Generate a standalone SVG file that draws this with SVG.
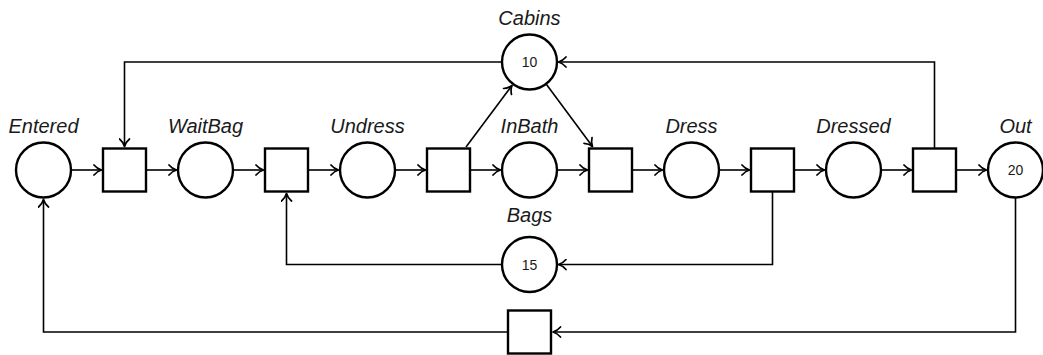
<svg xmlns="http://www.w3.org/2000/svg" width="1043" height="355" viewBox="0 0 1043 355">
  <style>
    .place { fill: #ffffff; stroke: #000000; stroke-width: 2.4; }
    .trans { fill: #ffffff; stroke: #000000; stroke-width: 2.4; }
    .arc { fill: none; stroke: #000000; stroke-width: 1.6; marker-end: url(#tip); }
    .lbl { font-family: "Liberation Sans", Arial, sans-serif; font-style: italic; font-size: 20px; fill: #1a1a1a; text-anchor: middle; }
    .tok { font-family: "Liberation Sans", Arial, sans-serif; font-size: 14px; fill: #1a1a1a; text-anchor: middle; dominant-baseline: central; }
  </style>
  <defs>
    <marker id="tip" viewBox="-9 -6 11 12" refX="0" refY="0" markerWidth="11" markerHeight="12" markerUnits="userSpaceOnUse" orient="auto">
      <path d="M -7.5 -5 C -5.2 -2.2 -2.4 -0.7 0 0 C -2.4 0.7 -5.2 2.2 -7.5 5" fill="none" stroke="#000000" stroke-width="1.7" stroke-linecap="round" stroke-linejoin="round"/>
    </marker>
  </defs>

  <!-- arcs between places and transitions -->
  <g id="connectors">
    <!-- main chain -->
    <path class="arc" d="M 72 170 H 101.5"/>
    <path class="arc" d="M 146.5 170 H 176.5"/>
    <path class="arc" d="M 234 170 H 263.5"/>
    <path class="arc" d="M 308.5 170 H 338.5"/>
    <path class="arc" d="M 396 170 H 425.5"/>
    <path class="arc" d="M 470.5 170 H 500.5"/>
    <path class="arc" d="M 558 170 H 587.5"/>
    <path class="arc" d="M 632.5 170 H 662.5"/>
    <path class="arc" d="M 720 170 H 749.5"/>
    <path class="arc" d="M 794.5 170 H 824.5"/>
    <path class="arc" d="M 882 170 H 911.5"/>
    <path class="arc" d="M 956.5 170 H 986.5"/>
    <!-- cabins resource -->
    <path class="arc" d="M 501.5 62 H 124.5 V 146.5"/>
    <path class="arc" d="M 934.5 148 V 62 H 558.5"/>
    <path class="arc" d="M 466 147 L 512 85.5"/>
    <path class="arc" d="M 546.5 84.5 L 592.5 146.5"/>
    <!-- bags resource -->
    <path class="arc" d="M 772.5 192 V 264.5 H 558.5"/>
    <path class="arc" d="M 501.5 264.5 H 286.5 V 193.5"/>
    <!-- recycle loop -->
    <path class="arc" d="M 1015.5 198 V 332 H 553"/>
    <path class="arc" d="M 507.5 332 H 43.5 V 199.5"/>
  </g>

  <!-- places -->
  <g id="entered">
    <circle class="place" cx="43.5" cy="170" r="27.5"/>
    <text class="lbl" x="43.5" y="133">Entered</text>
  </g>
  <g id="waitbag">
    <circle class="place" cx="205.5" cy="170" r="27.5"/>
    <text class="lbl" x="205.5" y="133">WaitBag</text>
  </g>
  <g id="undress">
    <circle class="place" cx="367.5" cy="170" r="27.5"/>
    <text class="lbl" x="367.5" y="133">Undress</text>
  </g>
  <g id="inbath">
    <circle class="place" cx="529.5" cy="170" r="27.5"/>
    <text class="lbl" x="529.5" y="133">InBath</text>
  </g>
  <g id="dress">
    <circle class="place" cx="691.5" cy="170" r="27.5"/>
    <text class="lbl" x="691.5" y="133">Dress</text>
  </g>
  <g id="dressed">
    <circle class="place" cx="853.5" cy="170" r="27.5"/>
    <text class="lbl" x="853.5" y="133">Dressed</text>
  </g>
  <g id="out">
    <circle class="place" cx="1015.5" cy="170" r="27.5"/>
    <text class="lbl" x="1015.5" y="133">Out</text>
    <text class="tok" x="1015.5" y="170">20</text>
  </g>
  <g id="cabins">
    <circle class="place" cx="529.5" cy="62" r="27.5"/>
    <text class="lbl" x="529.5" y="25">Cabins</text>
    <text class="tok" x="529.5" y="62">10</text>
  </g>
  <g id="bags">
    <circle class="place" cx="529.5" cy="264.5" r="27.5"/>
    <text class="lbl" x="529.5" y="222">Bags</text>
    <text class="tok" x="529.5" y="264.5">15</text>
  </g>

  <!-- transitions -->
  <g id="t-enter"><rect class="trans" x="103" y="148.5" width="43" height="43"/></g>
  <g id="t-getbag"><rect class="trans" x="265" y="148.5" width="43" height="43"/></g>
  <g id="t-undress"><rect class="trans" x="427" y="148.5" width="43" height="43"/></g>
  <g id="t-bath"><rect class="trans" x="589" y="148.5" width="43" height="43"/></g>
  <g id="t-dress"><rect class="trans" x="751" y="148.5" width="43" height="43"/></g>
  <g id="t-leave"><rect class="trans" x="913" y="148.5" width="43" height="43"/></g>
  <g id="t-return"><rect class="trans" x="508" y="310.5" width="43" height="43"/></g>
</svg>
